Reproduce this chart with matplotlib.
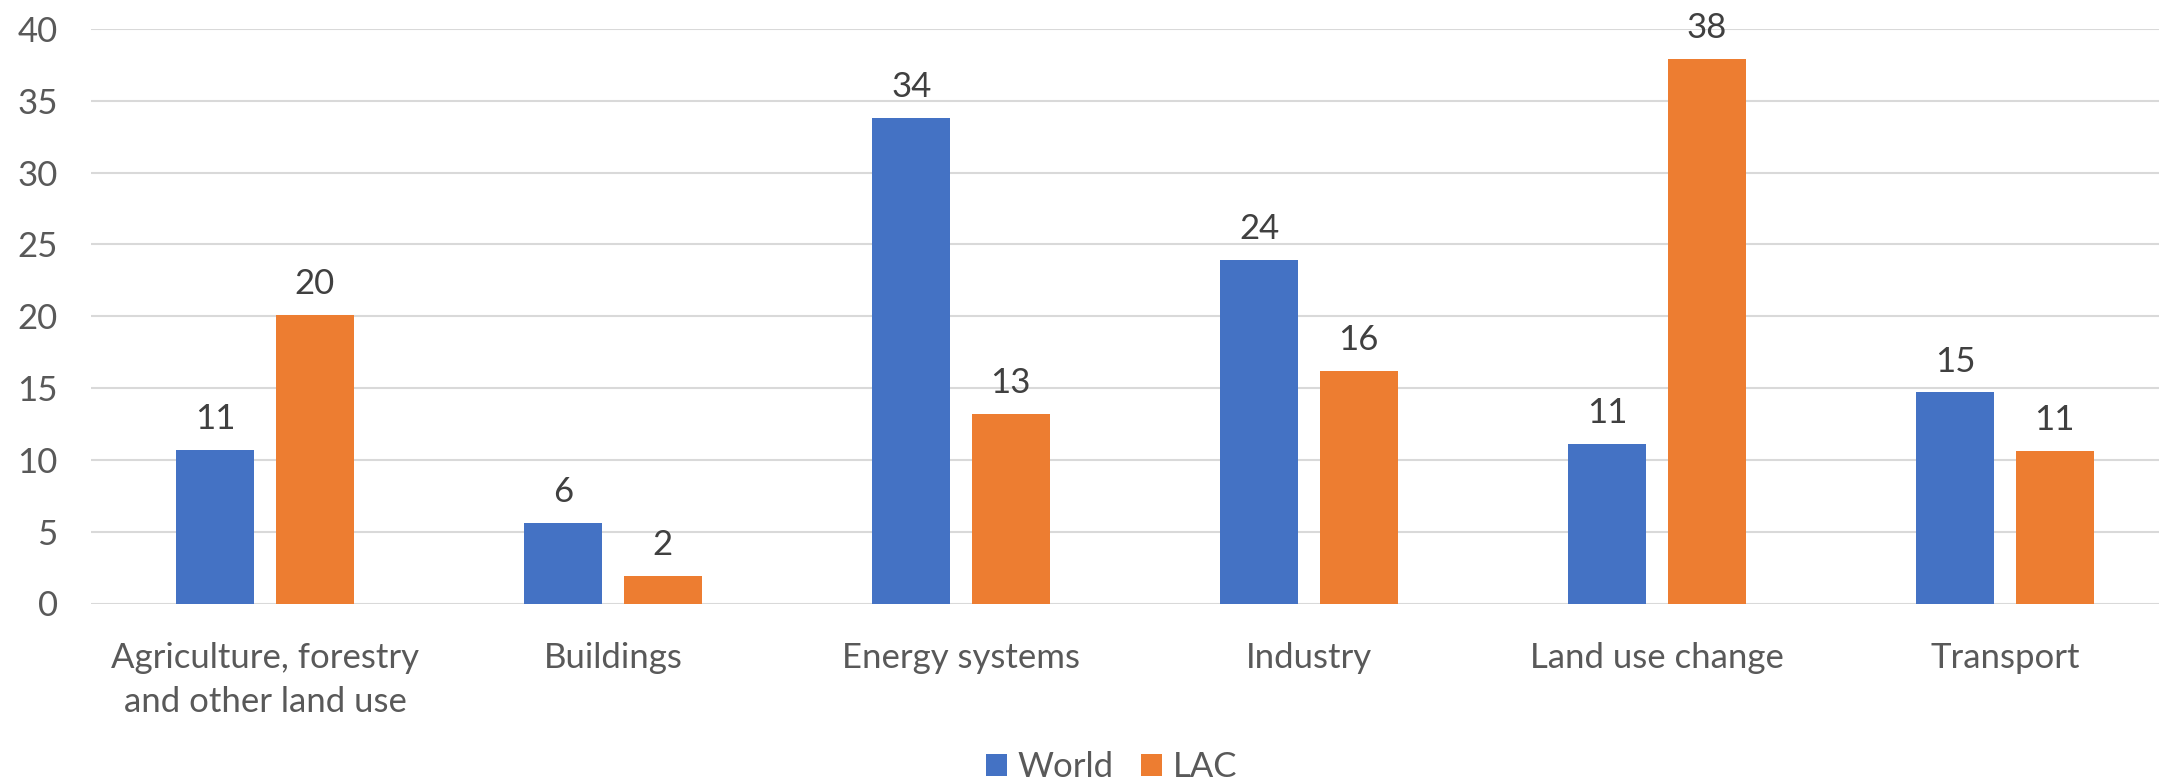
import matplotlib
matplotlib.use("Agg")
import matplotlib.pyplot as plt
from matplotlib.patches import Patch
import numpy as np

categories = ["Agriculture, forestry\nand other land use", "Buildings", "Energy systems",
              "Industry", "Land use change", "Transport"]
world = [10.7, 5.6, 33.8, 23.9, 11.1, 14.7]
lac = [20.1, 1.9, 13.2, 16.2, 37.9, 10.6]
world_labels = ["11", "6", "34", "24", "11", "15"]
lac_labels = ["20", "2", "13", "16", "38", "11"]
yticks = [0, 5, 10, 15, 20, 25, 30, 35, 40]

BLUE = "#4472C4"
ORANGE = "#ED7D31"
AXIS_TXT = "#595959"
LABEL_TXT = "#404040"
GRID = "#D9D9D9"

plt.rcParams['font.family'] = ['Lato', 'DejaVu Sans']

W, H = 2159, 780
fig = plt.figure(figsize=(W / 100, H / 100), dpi=100)
left_px, right_px = 91, 2179
top_px, bottom_px = 28.9, 603.5
ax = fig.add_axes([left_px / W, 1 - bottom_px / H, (right_px - left_px) / W, (bottom_px - top_px) / H])

x = np.arange(len(categories))
bw = 0.224
off = 0.143
b1 = ax.bar(x - off, world, width=bw, color=BLUE, zorder=3, label="World")
b2 = ax.bar(x + off, lac, width=bw, color=ORANGE, zorder=3, label="LAC")

for rect, lab in zip(b1, world_labels):
    ax.annotate(lab, (rect.get_x() + rect.get_width() / 2, rect.get_height()),
                xytext=(0, 15), textcoords="offset points", ha="center", va="baseline",
                fontsize=25, color=LABEL_TXT)
for rect, lab in zip(b2, lac_labels):
    ax.annotate(lab, (rect.get_x() + rect.get_width() / 2, rect.get_height()),
                xytext=(0, 15), textcoords="offset points", ha="center", va="baseline",
                fontsize=25, color=LABEL_TXT)

ax.set_xlim(-0.5, len(categories) - 0.5)
ax.set_ylim(0, 40)
ax.set_yticks(yticks)
ax.set_yticklabels([str(v) for v in yticks], fontsize=25, color=AXIS_TXT)
ax.set_xticks(x)
ax.set_xticklabels(categories, fontsize=25, color=AXIS_TXT, linespacing=1.45)
ax.tick_params(axis="y", length=0, pad=24)
ax.tick_params(axis="x", length=0, pad=28)
ax.yaxis.grid(True, color=GRID, linewidth=1.5, zorder=0)
ax.set_axisbelow(True)
for s in ax.spines.values():
    s.set_visible(False)

handles = [Patch(facecolor=BLUE, label="World"), Patch(facecolor=ORANGE, label="LAC")]
fig.legend(handles=handles, loc="center", bbox_to_anchor=(1111.5 / W, 1 - 767 / H),
           ncol=2, frameon=False, fontsize=25, labelcolor=AXIS_TXT,
           handlelength=0.6, handleheight=0.6, handletextpad=0.3, columnspacing=0.8,
           borderpad=0, borderaxespad=0)

fig.savefig("out.png", dpi=100)
